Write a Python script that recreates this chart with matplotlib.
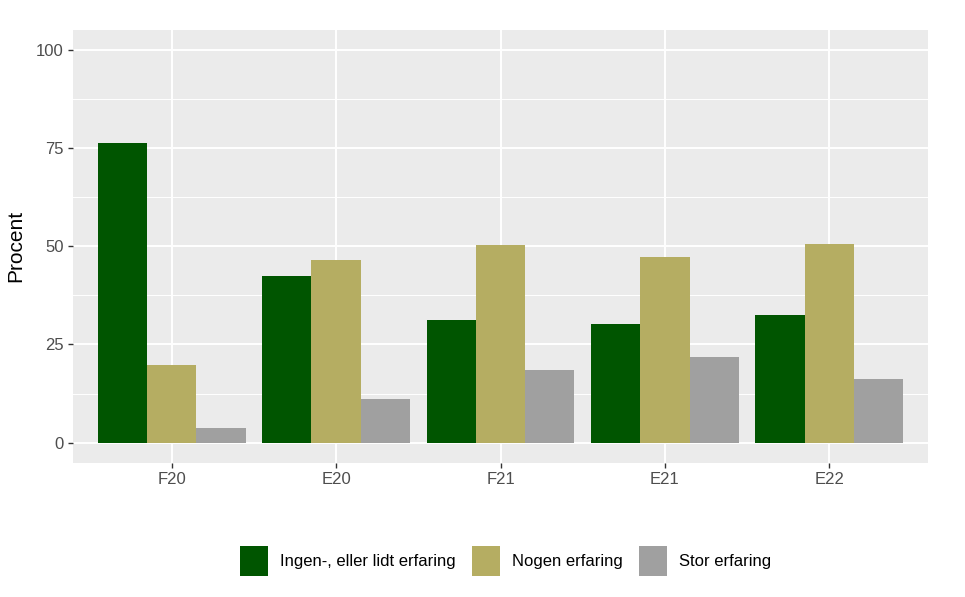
import matplotlib
matplotlib.use("Agg")
import matplotlib.pyplot as plt
import numpy as np
from matplotlib.patches import Patch

categories = ["F20", "E20", "F21", "E21", "E22"]
series_names = ["Ingen-, eller lidt erfaring", "Nogen erfaring", "Stor erfaring"]
ingen = [76.2, 42.3, 31.3, 30.3, 32.5]
nogen = [19.8, 46.6, 50.2, 47.2, 50.5]
stor = [3.8, 11.1, 18.5, 21.9, 16.1]
colors = ["#005500", "#b5ad62", "#a0a0a0"]
yticks = [0, 25, 50, 75, 100]

plt.rcParams['font.family'] = ['Liberation Sans', 'DejaVu Sans']

fig = plt.figure(figsize=(9.65, 5.97), dpi=100)
fig.patch.set_facecolor("white")
ax = fig.add_axes([73/965, 1 - 462.7/597, (928-73)/965, (462.7-30)/597])
ax.set_facecolor("#ebebeb")

x = np.arange(1, len(categories) + 1)
w = 0.3
for i, (vals, col) in enumerate(zip([ingen, nogen, stor], colors)):
    ax.bar(x + (i - 1) * w, vals, width=w, color=col, zorder=3, linewidth=0)

ax.set_xlim(0.4, 5.6)
ax.set_ylim(-5.1, 105.0)
ax.set_yticks(yticks)
ax.set_yticklabels([str(t) for t in yticks])
ax.set_yticks([12.5, 37.5, 62.5, 87.5], minor=True)
ax.set_xticks(x)
ax.set_xticklabels(categories)

ax.grid(which="major", axis="both", color="white", linewidth=1.4, zorder=1)
ax.grid(which="minor", axis="y", color="white", linewidth=0.7, zorder=1)
for s in ax.spines.values():
    s.set_visible(False)
ax.tick_params(axis="both", which="major", length=3.5, width=1.0, color="#333333",
               labelcolor="#4d4d4d", labelsize=12, pad=3)
ax.tick_params(axis="both", which="minor", length=0)
ax.set_ylabel("Procent", fontsize=15, color="black", labelpad=8)

handles = [Patch(facecolor=c, edgecolor="none", label=n) for c, n in zip(colors, series_names)]
fig.legend(handles=handles, loc="center", bbox_to_anchor=(0.524, 1 - 561/597), ncol=3,
           frameon=False, fontsize=12, handlelength=1.68, handleheight=2.39,
           handletextpad=0.7, columnspacing=1.0)

fig.savefig("out.png", dpi=100)
